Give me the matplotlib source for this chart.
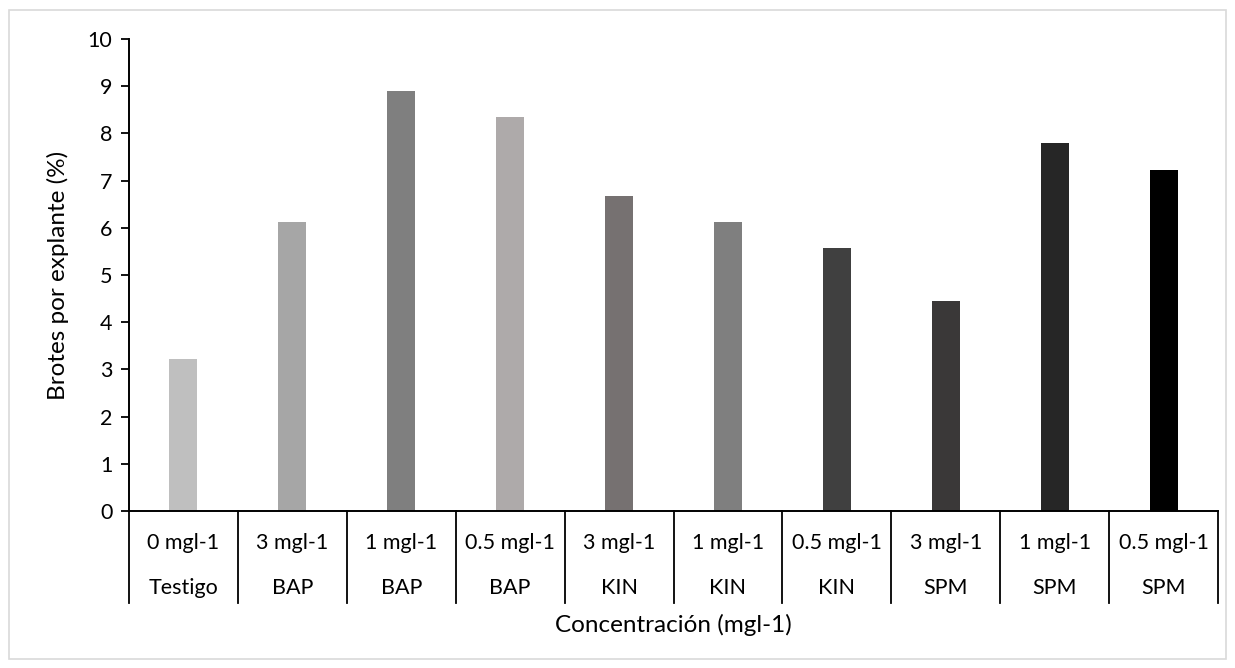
import matplotlib
matplotlib.use("Agg")
import matplotlib.pyplot as plt
from matplotlib.lines import Line2D
from matplotlib.patches import Rectangle

plt.rcParams['font.family'] = ['Lato', 'DejaVu Sans']

concentrations = ["0 mgl-1", "3 mgl-1", "1 mgl-1", "0.5 mgl-1", "3 mgl-1",
                  "1 mgl-1", "0.5 mgl-1", "3 mgl-1", "1 mgl-1", "0.5 mgl-1"]
treatments = ["Testigo", "BAP", "BAP", "BAP", "KIN", "KIN", "KIN", "SPM", "SPM", "SPM"]
values = [3.22, 6.12, 8.90, 8.35, 6.67, 6.12, 5.57, 4.45, 7.80, 7.22]
colors = ["#BFBFBF", "#A6A6A6", "#7F7F7F", "#AEAAAA", "#767171",
          "#7F7F7F", "#404040", "#3A3838", "#262626", "#000000"]
yticks = list(range(0, 11))

W, H = 1235, 668
fig = plt.figure(figsize=(W / 100, H / 100), dpi=100)
fig.patch.set_facecolor("white")
fig.patches.append(Rectangle((9 / W, 1 - 659 / H), (1226 - 9) / W, (659 - 10) / H,
                             transform=fig.transFigure, fill=False,
                             edgecolor="#D9D9D9", linewidth=1.2))

ax = fig.add_axes([129 / W, 1 - 511 / H, (1218 - 129) / W, (511 - 39) / H])
x = list(range(len(values)))
ax.bar(x, values, width=0.257, color=colors, zorder=2)

ax.set_xlim(-0.5, len(values) - 0.5)
ax.set_ylim(0, 10)
ax.set_yticks(yticks)
ax.set_yticklabels([str(t) for t in yticks], fontsize=15.5)
ax.tick_params(axis='y', direction='out', length=6, width=1.3, pad=6, colors='black')
ax.set_xticks([])
for s in ['top', 'right']:
    ax.spines[s].set_visible(False)
for s in ['left', 'bottom']:
    ax.spines[s].set_linewidth(1.4)
    ax.spines[s].set_color('black')

axh = 511 - 39
row1 = (511 - 543) / axh
row2 = (511 - 588) / axh
div_bottom = (511 - 603) / axh
tr = ax.get_xaxis_transform()
for i, (c, t) in enumerate(zip(concentrations, treatments)):
    ax.text(i, row1, c, transform=tr, ha='center', va='center', fontsize=15.5)
    ax.text(i, row2, t, transform=tr, ha='center', va='center', fontsize=15.5)
for i in range(len(values) + 1):
    ax.add_line(Line2D([i - 0.5, i - 0.5], [0, div_bottom], transform=tr,
                       color='black', linewidth=1.3, clip_on=False))

ax.text(0.5, (511 - 625) / axh, "Concentración (mgl-1)", transform=ax.transAxes,
        ha='center', va='center', fontsize=17.5)
fig.text(58 / W, 1 - 275 / H, "Brotes por explante (%)", rotation=90,
         ha='center', va='center', fontsize=17.5)

fig.savefig("out.png", dpi=100)
